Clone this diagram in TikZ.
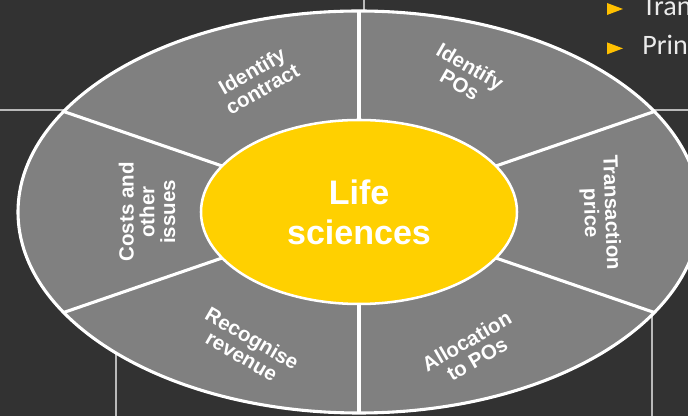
\documentclass[tikz,border=0pt]{standalone}
\usepackage{fontspec}
\setmainfont{Liberation Sans}
\newfontfamily\bulletfont{Carlito}
\usepackage{tikz}
\usetikzlibrary{shapes.geometric, positioning}

\definecolor{slate}{RGB}{50,50,50}
\definecolor{segment}{RGB}{128,128,128}
\definecolor{gold}{RGB}{255,208,0}
\definecolor{amber}{RGB}{255,192,0}
\definecolor{rule}{RGB}{185,185,185}

\tikzset{
  seglabel/.style={text=white, align=center, font=\bfseries\fontsize{14.6}{14.8}\selectfont},
  border/.style={draw=white, line width=2.2pt},
  bullettext/.style={text=white!92!black, anchor=base west, inner sep=0pt, font=\bulletfont\fontsize{20}{22}\selectfont},
}

\begin{document}
\begin{tikzpicture}
            \useasboundingbox (-8.975,-5.1) rectangle (8.225,5.3);
            \fill[slate] (-8.975,-5.1) rectangle (8.225,5.3);
            % table rules behind the wheel
            \draw[rule, line width=1.4pt] (0.125,5.3) -- (0.125,4);
            \draw[rule, line width=1.4pt] (-8.975,2.55) -- (-7,2.55);
            \draw[rule, line width=1.4pt] (7,2.55) -- (8.225,2.55);
            \draw[rule, line width=1.4pt] (-6.075,-5.1) -- (-6.075,-3);
            \draw[rule, line width=1.4pt] (7.325,-5.1) -- (7.325,-2);
            % outer ring and its six spokes
            \filldraw[fill=segment, border] (0,0) ellipse (8.525 and 5.025);
            \foreach \a in {30,90,...,330} {
                \coordinate (o\a) at (\a:8.525 and 5.025);
                \coordinate (i\a) at (\a:3.95 and 2.3);
                \draw[border] (i\a) -- (o\a);
            }
            % hub
            \node[ellipse, fill=gold, draw=white, line width=1.8pt, minimum width=7.9cm, minimum height=4.6cm,
                  inner sep=0pt, text=white, align=center, font=\bfseries\fontsize{24.2}{28.5}\selectfont] (core) at (0,0) {Life\\sciences};
            \node[seglabel, rotate=30] (contract) at (-2.55,3.3) {Identify\\contract};
            \node[seglabel, rotate=-30] (pos) at (2.65,3.42) {Identify\\POs};
            \node[seglabel, rotate=-88] (price) at (6.03,-0.02) {Transaction\\price};
            \node[seglabel, rotate=30] (alloc) at (2.82,-3.45) {Allocation\\to POs};
            \node[seglabel, rotate=-30] (revenue) at (-2.8,-3.38) {Recognise\\revenue};
            \node[seglabel, rotate=90] (costs) at (-5.3,0) {Costs and\\other\\issues};
            % bullets, top right
            \fill[amber] (6.2,5.225) -- (6.2,4.925) -- (6.6,5.075) -- cycle;
            \fill[amber] (6.2,4.24) -- (6.2,3.94) -- (6.6,4.09) -- cycle;
            \node[bullettext] (tran) at (7.075,4.92) {Tran};
            \node[bullettext] (prin) at (7.075,3.93) {Prin};
        \end{tikzpicture}
\end{document}
